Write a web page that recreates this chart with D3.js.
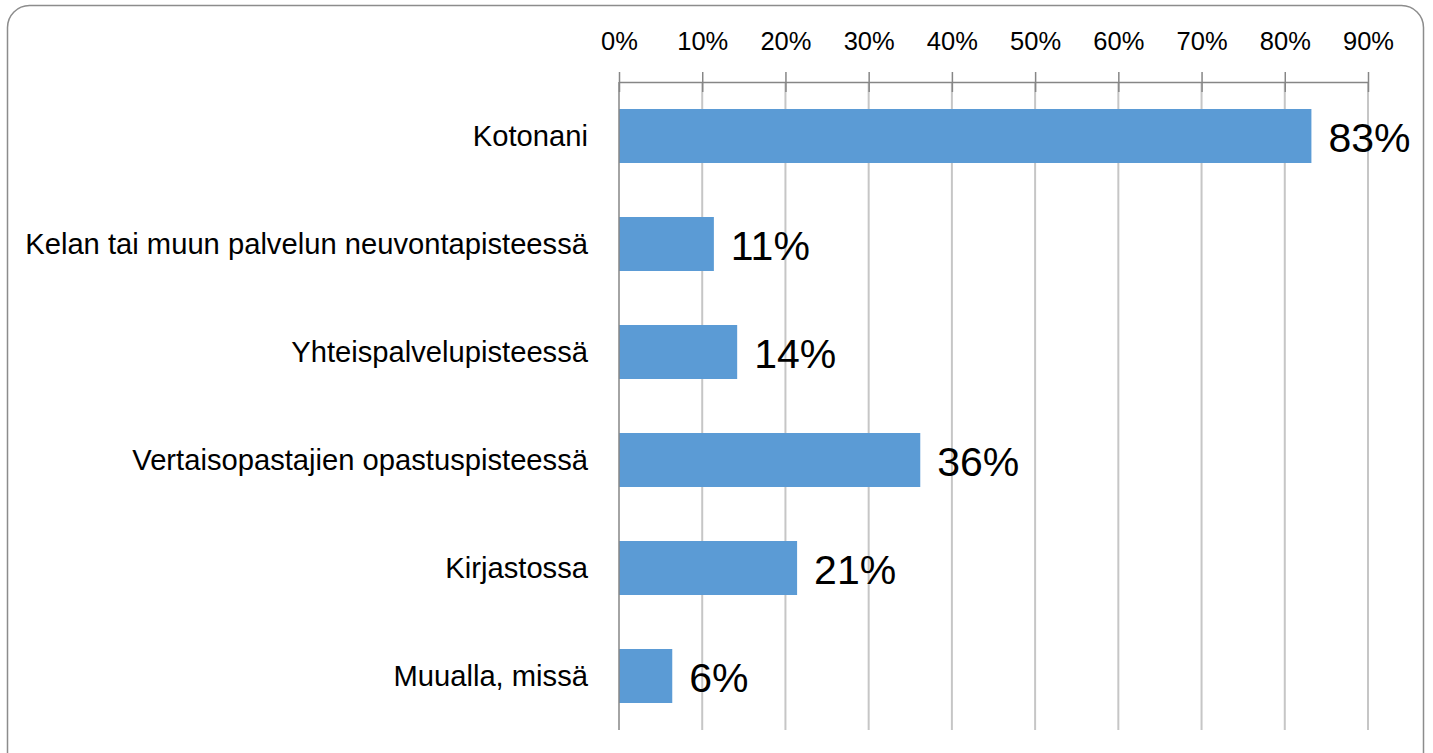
<!DOCTYPE html>
<html><head><meta charset="utf-8">
<script src="https://cdn.jsdelivr.net/npm/d3@7"></script>
<style>body{margin:0;background:#fff}svg{display:block}</style>
</head><body>
<svg id="c" width="1433" height="753"></svg>
<script>
const categories = ["Kotonani","Kelan tai muun palvelun neuvontapisteessä","Yhteispalvelupisteessä","Vertaisopastajien opastuspisteessä","Kirjastossa","Muualla, missä"];
const values = [0.832, 0.114, 0.142, 0.362, 0.214, 0.064];
const tickValues = [0,0.1,0.2,0.3,0.4,0.5,0.6,0.7,0.8,0.9];

const svg = d3.select("#c");
const font = "'Liberation Sans', Arial, sans-serif";

// frame
svg.append("rect").attr("x",7.5).attr("y",5.5).attr("width",1416).attr("height",770)
  .attr("rx",22).attr("fill","#fff").attr("stroke","#8c8c8c").attr("stroke-width",1.5);

const x = d3.scaleLinear().domain([0,0.9]).range([619,1368]);
const y = d3.scaleBand().domain(categories).range([82,730]).paddingInner(0.5).paddingOuter(0.25);

// gridlines
svg.append("g").selectAll("line").data(tickValues.slice(1)).join("line")
  .attr("x1",d=>x(d)).attr("x2",d=>x(d)).attr("y1",82).attr("y2",730)
  .attr("stroke","#c6c6c6").attr("stroke-width",2);

// top axis
const ax = svg.append("g").attr("transform","translate(0,82)")
  .call(d3.axisTop(x).tickValues(tickValues).tickFormat(d3.format(".0%")).tickSizeInner(10).tickSizeOuter(0).tickPadding(22));
ax.select(".domain").attr("stroke","#868686").attr("stroke-width",1.5);
ax.selectAll(".tick line").attr("stroke","#868686").attr("stroke-width",1.5).attr("y1",10).attr("y2",-10);
ax.selectAll(".tick text").attr("font-family",font).attr("font-size",25.5).attr("fill","#000");

// bars
svg.append("g").selectAll("rect").data(values).join("rect")
  .attr("x",x(0)).attr("y",(d,i)=>y(categories[i]))
  .attr("width",d=>x(d)-x(0)).attr("height",y.bandwidth())
  .attr("fill","#5b9bd5");

// left axis line
svg.append("line").attr("x1",x(0)).attr("x2",x(0)).attr("y1",82).attr("y2",730)
  .attr("stroke","#868686").attr("stroke-width",1.5);

// category labels
const labs = svg.append("g").selectAll("text").data(categories).join("text")
  .attr("x",588).attr("y",d=>y(d)+y.bandwidth()/2).attr("dy","0.35em")
  .attr("text-anchor","end").attr("font-family",font).attr("font-size",24).attr("fill","#000")
  .text(d=>d);
let maxW = 0; labs.each(function(){maxW=Math.max(maxW,this.getComputedTextLength());});
labs.attr("font-size", 24*563/maxW);

// value labels
svg.append("g").selectAll("text").data(values).join("text")
  .attr("x",d=>x(d)+17).attr("y",(d,i)=>y(categories[i])+y.bandwidth()/2).attr("dy","0.38em")
  .attr("font-family",font).attr("font-size",41).attr("fill","#000")
  .text(d=>d3.format(".0%")(d));
</script>
</body></html>
